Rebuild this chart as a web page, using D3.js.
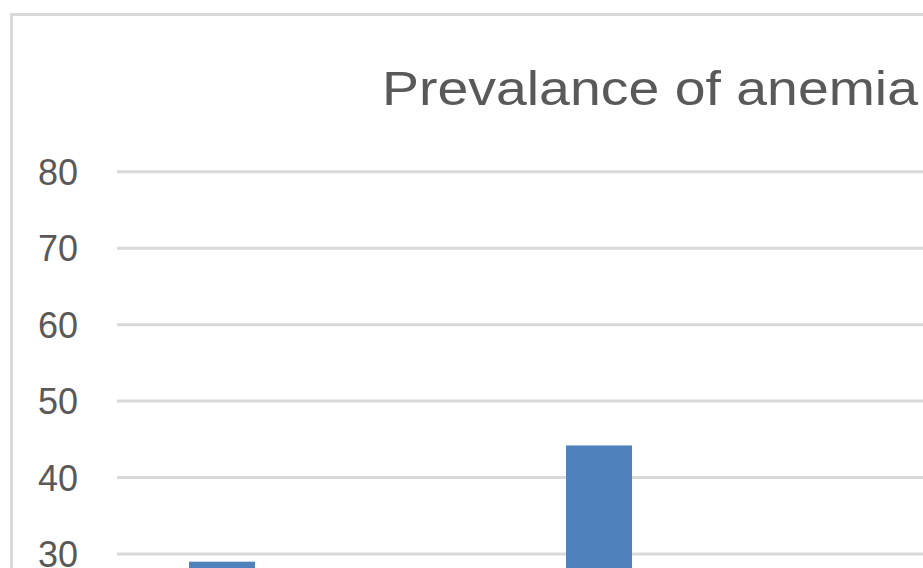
<!DOCTYPE html>
<html>
<head>
<meta charset="utf-8">
<script src="https://cdn.jsdelivr.net/npm/d3@7"></script>
<style>
  html, body { margin: 0; padding: 0; background: #fff; overflow: hidden; }
  .tick-label { font-family: "Liberation Sans", Arial, sans-serif; fill: #595959; }
</style>
</head>
<body>
<div id="chart"></div>
<script>
// Data (only the upper part of the chart is visible in the reference)
const categories = ["Group 1", "Group 2"];
const values = [29.0, 44.2];
const yTicks = [0, 10, 20, 30, 40, 50, 60, 70, 80];
const titleText = "Prevalance of anemia";

// Canvas is taller/wider than the window; the window crops it like the reference
const W = 1100, H = 840;
const plot = { left: 117, top: 171.7, bottom: 783.4 };

const svg = d3.select("#chart")
    .append("svg")
    .attr("width", W)
    .attr("height", H);

// Chart border
svg.append("rect")
    .attr("x", 11.5)
    .attr("y", 14.5)
    .attr("width", W)
    .attr("height", H)
    .attr("fill", "#fff")
    .attr("stroke", "#d9d9d9")
    .attr("stroke-width", 3);

// Scales
const y = d3.scaleLinear()
    .domain([0, 80])
    .range([plot.bottom, plot.top]);

const x = d3.scaleBand()
    .domain(categories)
    .range([plot.left, 704])
    .paddingInner(0.825)
    .paddingOuter(0.191);

// Grid lines
svg.append("g")
    .selectAll("line")
    .data(yTicks)
    .enter()
    .append("line")
    .attr("x1", plot.left)
    .attr("x2", W)
    .attr("y1", d => y(d))
    .attr("y2", d => y(d))
    .attr("stroke", "#d9d9d9")
    .attr("stroke-width", 3);

// Y tick labels
svg.append("g")
    .selectAll("text")
    .data(yTicks)
    .enter()
    .append("text")
    .attr("class", "tick-label")
    .attr("x", 78)
    .attr("y", d => y(d))
    .attr("dy", "0.36em")
    .attr("text-anchor", "end")
    .style("font-size", "36px")
    .text(d => d);

// Bars
svg.append("g")
    .selectAll("rect")
    .data(values)
    .enter()
    .append("rect")
    .attr("x", (d, i) => x(categories[i]))
    .attr("width", x.bandwidth())
    .attr("y", d => y(d))
    .attr("height", d => y(0) - y(d))
    .attr("fill", "#4f81bd");

// Title
svg.append("text")
    .attr("class", "tick-label")
    .attr("x", 382)
    .attr("y", 105)
    .attr("textLength", 536)
    .attr("lengthAdjust", "spacingAndGlyphs")
    .style("font-size", "49px")
    .text(titleText);
</script>
</body>
</html>
